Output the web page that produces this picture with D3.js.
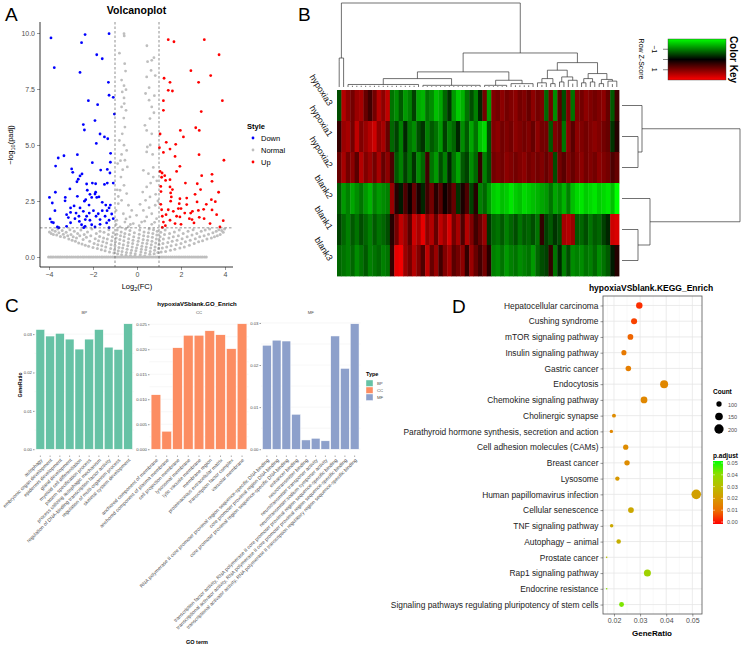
<!DOCTYPE html>
<html>
<head>
<meta charset="utf-8">
<script src="https://d3js.org/d3.v7.min.js"></script>
<style>
  html, body { margin: 0; padding: 0; background: #fff; }
  svg { display: block; font-family: "Liberation Sans", Arial, sans-serif; }
</style>
</head>
<body>
<svg width="744" height="646"></svg>
<script>
// ---------- A: volcano data (log2FC, -log10 padj) ----------
const downPts = [[-3.91,9.78],[-2.36,9.93],[-2.52,9.57],[-1.27,9.97],[-3.76,8.45],[-1.83,9.03],[-1.58,8.85],[-2.59,8.24],[-1.30,7.80],[-1.27,7.22],[-1.08,7.13],[-2.21,6.98],[-1.79,6.80],[-1.03,6.38],[-1.91,6.09],[-2.44,5.91],[-2.39,5.67],[-1.68,5.49],[-1.48,5.36],[-1.33,5.28],[-1.85,5.07],[-1.20,4.63],[-3.32,4.52],[-3.58,4.42],[-2.71,4.57],[-3.70,4.06],[-2.03,4.21],[-1.21,4.23],[-2.97,3.93],[-2.92,3.78],[-1.65,3.88],[-1.35,3.91],[-2.50,3.71],[-2.59,3.62],[-2.67,3.47],[-2.73,3.36],[-1.23,3.75],[-2.29,3.26],[-2.03,3.30],[-1.88,3.27],[-1.48,3.24],[-1.35,3.30],[-1.08,3.30],[-3.05,3.04],[-3.71,2.89],[-2.26,2.98],[-1.88,2.89],[-1.73,2.68],[-2.14,2.80],[-1.91,2.81],[-3.98,2.66],[-3.26,2.66],[-2.71,2.71],[-2.06,2.66],[-1.83,2.66],[-2.33,2.56],[-3.27,2.51],[-2.39,2.49],[-1.58,2.44],[-3.85,2.41],[-2.86,2.28],[-2.18,2.32],[-1.42,2.32],[-1.21,2.32],[-1.27,2.19],[-3.02,2.19],[-2.59,2.19],[-3.73,2.07],[-1.98,2.07],[-1.58,2.07],[-1.36,2.07],[-3.02,1.99],[-2.77,1.96],[-2.44,2.04],[-2.17,1.96],[-1.76,1.93],[-1.15,1.92],[-3.20,1.89],[-2.64,1.82],[-2.29,1.82],[-1.86,1.82],[-1.45,1.82],[-3.95,1.70],[-3.12,1.76],[-2.82,1.71],[-2.62,1.59],[-2.35,1.67],[-2.14,1.64],[-1.68,1.67],[-1.27,1.64],[-1.08,1.71],[-3.88,1.56],[-3.80,1.53],[-3.02,1.53],[-2.52,1.44],[-2.06,1.44],[-1.68,1.46],[-1.38,1.52],[-3.62,1.34],[-3.55,1.31],[-3.20,1.37],[-2.36,1.37],[-1.91,1.34],[-1.27,1.31],[-2.42,1.31]];
const upPts = [[1.42,9.70],[1.68,9.61],[3.06,9.70],[3.73,9.03],[2.45,8.32],[3.35,8.10],[1.23,7.98],[1.50,7.80],[2.80,7.80],[1.42,7.44],[1.61,7.41],[1.20,6.98],[3.88,6.98],[1.20,6.55],[2.92,6.49],[2.67,5.77],[2.83,5.65],[1.97,5.65],[1.05,5.49],[2.11,5.36],[1.33,5.12],[1.02,4.88],[1.76,5.03],[1.50,4.82],[1.20,4.67],[1.73,4.49],[2.82,4.57],[3.95,4.32],[1.95,4.05],[1.05,3.82],[1.14,3.75],[1.80,3.82],[1.26,3.63],[2.94,3.63],[3.41,3.69],[1.12,3.56],[1.30,3.42],[1.50,3.45],[3.41,3.38],[2.20,3.30],[2.74,3.27],[1.08,3.15],[1.50,3.13],[1.61,3.01],[2.89,3.01],[1.09,2.92],[1.53,2.86],[3.71,2.89],[2.64,2.80],[1.56,2.68],[3.38,2.56],[1.95,2.60],[2.26,2.63],[3.56,2.47],[1.53,2.49],[2.73,2.46],[1.08,2.35],[1.92,2.38],[2.26,2.34],[3.15,2.35],[3.03,2.13],[1.12,2.11],[1.42,2.11],[1.88,2.16],[2.00,2.16],[2.52,2.04],[2.79,2.08],[3.41,2.10],[1.65,2.04],[2.44,1.96],[1.32,1.89],[2.17,1.96],[3.62,1.89],[1.15,1.82],[1.80,1.82],[2.38,1.71],[2.83,1.77],[3.05,1.71],[1.50,1.64],[1.95,1.79],[2.50,1.67],[3.92,1.62],[1.20,1.56],[1.73,1.49],[2.59,1.52],[3.32,1.49],[3.77,1.34],[1.15,1.32],[2.00,1.46],[1.29,1.40]];
const normalHigh = [[-0.59,9.97],[-0.58,9.87],[-0.80,9.1],[0.45,9.43],[0.77,8.9],[0.67,8.78],[0.48,8.72],[-0.56,8.63],[-0.52,8.3],[0.64,8.33],[0.44,8.04],[0.83,8.1],[-0.70,7.9],[-0.59,7.65],[-0.50,7.47],[-0.67,7.37],[0.55,7.56],[0.39,7.3],[0.79,7.2],[-0.59,7.1],[-0.58,6.85],[-0.70,6.7],[-0.50,6.55],[0.55,7.0],[0.67,6.7],[0.77,6.44],[0.59,6.18],[0.36,5.88],[0.44,5.65],[0.67,5.5],[-0.55,5.8],[-0.67,5.5],[-0.80,5.2],[-0.59,4.99],[-0.47,4.76],[-0.70,4.58],[0.47,4.91],[0.44,4.69],[0.71,4.58],[-0.88,4.17],[-0.55,4.32],[-0.44,4.02],[0.29,3.87],[0.52,3.72],[0.74,3.57],[0.74,4.0],[-0.73,3.57],[-0.59,3.2],[0.62,3.3],[0.44,3.13],[0.26,2.9],[-0.77,2.98],[-0.47,2.83],[-0.70,2.53],[-0.39,2.31],[-0.85,2.38],[0.39,2.53],[0.59,2.68],[0.14,2.35],[0.83,2.31],[-0.95,2.08],[-0.62,1.93],[-0.24,2.08],[0.29,2.08],[0.67,1.93],[-0.32,1.79],[-0.02,1.86],[0.44,1.79],[0.89,1.71],[-0.92,1.64],[-0.55,1.56],[0.21,1.56],[-0.17,1.49],[0.67,1.46],[-0.77,1.34],[-0.39,1.35],[-0.9,3.0],[-0.65,3.9],[0.9,3.4],[0.85,2.8],[-0.85,2.7],[0.55,2.2],[-0.5,1.7],[0.1,1.4],[-0.3,1.45],[0.35,1.6],[0.8,1.55],[-0.95,1.45],[0.95,2.5],[-0.6,6.2],[0.6,5.0],[-0.75,4.3]];
const normalLow = [[-3.98,1.12],[-3.9,1.05],[-3.85,1.2],[-3.8,1.0],[-3.72,1.15],[-3.65,0.98],[-3.6,1.25],[-3.55,1.08],[-3.48,0.92],[-3.4,1.18],[-3.35,1.02],[-3.3,0.88],[-3.22,1.1],[-3.15,0.95],[-3.1,0.8],[-3.05,1.22],[-3.0,1.0],[-2.95,0.75],[-2.9,0.9],[-2.85,1.15],[-2.8,0.7],[-2.75,0.85],[-2.7,1.05],[-2.65,0.62],[-2.6,0.95],[-2.55,1.2],[-2.5,0.58],[-2.45,0.78],[-2.4,1.0],[-2.35,0.52],[-2.3,0.88],[-2.25,1.12],[-2.2,0.48],[-2.15,0.7],[-2.1,0.95],[-2.05,1.25],[-2.0,0.42],[-1.95,0.6],[-1.9,0.82],[-1.85,1.05],[-1.8,0.38],[-1.78,0.55],[-1.75,0.72],[-1.7,0.92],[-1.68,1.15],[-1.62,0.32],[-1.6,0.5],[-1.55,0.68],[-1.52,0.85],[-1.5,1.1],[-1.45,0.28],[-1.42,0.45],[-1.38,0.62],[-1.35,0.8],[-1.3,1.0],[-1.28,1.22],[-1.25,0.22],[-1.2,0.38],[-1.18,0.55],[-1.15,0.72],[-1.12,0.9],[-1.08,1.08],[-1.05,0.18],[-1.02,0.32],[-1.0,0.5],[-0.98,0.68],[-0.95,0.85],[-0.92,1.02],[-0.9,1.2],[-0.88,0.14],[-0.85,0.28],[-0.82,0.42],[-0.8,0.6],[-0.78,0.78],[-0.75,0.95],[-0.72,1.12],[-0.7,0.1],[-0.68,0.25],[-0.65,0.4],[-0.62,0.55],[-0.6,0.72],[-0.58,0.9],[-0.55,1.05],[-0.52,1.25],[-0.5,0.08],[-0.48,0.2],[-0.45,0.35],[-0.42,0.5],[-0.4,0.65],[-0.38,0.82],[-0.35,1.0],[-0.32,1.18],[-0.3,0.06],[-0.28,0.18],[-0.25,0.3],[-0.22,0.45],[-0.2,0.6],[-0.18,0.75],[-0.15,0.9],[-0.12,1.08],[-0.1,0.05],[-0.08,0.15],[-0.05,0.28],[-0.02,0.4],[0.02,0.55],[0.05,0.7],[0.08,0.85],[0.1,1.02],[0.12,1.2],[0.15,0.1],[0.18,0.22],[0.2,0.35],[0.22,0.48],[0.25,0.62],[0.28,0.78],[0.3,0.95],[0.32,1.12],[0.35,0.05],[0.38,0.18],[0.4,0.32],[0.42,0.45],[0.45,0.6],[0.48,0.75],[0.5,0.92],[0.52,1.08],[0.55,1.25],[0.58,0.12],[0.6,0.25],[0.62,0.4],[0.65,0.55],[0.68,0.7],[0.7,0.88],[0.72,1.05],[0.75,1.22],[0.78,0.15],[0.8,0.3],[0.82,0.45],[0.85,0.62],[0.88,0.8],[0.9,0.98],[0.92,1.15],[0.95,0.2],[0.98,0.38],[1.0,0.55],[1.02,0.72],[1.05,0.9],[1.08,1.1],[1.1,0.22],[1.15,0.4],[1.18,0.6],[1.2,0.8],[1.25,1.0],[1.28,1.2],[1.3,0.25],[1.35,0.45],[1.4,0.65],[1.45,0.85],[1.48,1.05],[1.52,0.3],[1.55,0.5],[1.6,0.7],[1.65,0.9],[1.7,1.12],[1.72,0.35],[1.78,0.55],[1.82,0.75],[1.88,0.95],[1.92,1.2],[1.95,0.4],[2.0,0.6],[2.05,0.82],[2.1,1.05],[2.15,0.45],[2.2,0.68],[2.28,0.9],[2.32,1.15],[2.38,0.52],[2.42,0.75],[2.5,0.98],[2.55,1.22],[2.6,0.6],[2.65,0.82],[2.72,1.05],[2.8,0.68],[2.85,0.9],[2.92,1.15],[2.98,0.72],[3.05,0.95],[3.1,1.2],[3.18,0.8],[3.25,1.02],[3.3,1.25],[3.38,0.85],[3.45,1.08],[3.52,0.9],[3.6,1.15],[3.65,0.95],[3.72,1.22],[3.78,1.0],[3.85,1.18],[3.92,1.1],[3.98,1.25]];
const normalZeroX = [-4.02,-3.94,-3.87,-3.8,-3.71,-3.63,-3.55,-3.48,-3.4,-3.31,-3.22,-3.15,-3.06,-2.98,-2.9,-2.81,-2.72,-2.65,-2.56,-2.47,-2.4,-2.31,-2.22,-2.14,-2.05,-1.97,-1.88,-1.8,-1.71,-1.62,-1.55,-1.46,-1.38,-1.3,-1.21,-1.12,-1.04,-0.95,-0.87,-0.78,-0.7,-0.61,-0.53,-0.44,-0.36,-0.27,-0.19,-0.1,-0.02,0.07,0.15,0.24,0.32,0.41,0.5,0.58,0.67,0.75,0.84,0.92,1.01,1.1,1.18,1.27,1.35,1.44,1.53,1.61,1.7,1.78,1.87,1.95,2.04,2.13,2.21,2.3,2.38,2.47,2.55,2.64,2.73,2.81,2.9,2.98,3.07,3.15];
const volcanoXTicks = [-4, -2, 0, 2, 4];
const volcanoYTicks = [0, 2.5, 5, 7.5, 10];

// ---------- B: heatmap ----------
const rowNames = ["hypoxia3", "hypoxia1", "hypoxia2", "blank2", "blank1", "blank3"];
const heatValues = [
  [-0.6,1.4,1.1,0.9,1.2,1.3,0.8,0.5,0.9,1.4,1.1,1.5, -0.9,-1.1,-0.7,-1.2,-1.0,-0.5,-1.3,-1.4,-0.9,-1.1,-1.5,-1.3,-0.8,-0.4,-1.2,-1.6,-1.4,-0.9,-0.6,-1.0,-0.3,0.9,-1.2, 1.0,0.9,1.1,0.9,1.0,1.1,0.9,1.0,0.8,1.1,0.9,1.0, -0.8,0.9,-1.1,0.7,-0.6,1.0,-0.9, 1.0,0.9,1.1,1.0,0.9,1.0,1.1,0.8,-0.7,0.5],
  [0.4,1.2,1.3,0.9,1.5,1.0,1.2,1.4,1.6,1.1,1.3,0.8, -0.8,-0.5,-1.0,-0.3,-0.9,-1.1,-0.6,-0.4,-1.0,-0.7,-0.9,-1.2,-0.5,-1.0,-0.8,-0.3,-1.1,-0.7,-1.3,-0.9,-1.5,-1.7,-0.6, 1.0,1.1,0.9,1.0,0.9,1.1,1.0,0.9,1.0,0.8,1.1,0.9, 0.9,-0.7,1.0,0.8,-0.9,1.1,0.7, 1.1,1.0,0.9,1.0,1.1,1.0,0.9,0.8,-0.4,0.3],
  [0.8,1.3,0.9,1.1,0.7,1.4,1.0,1.2,0.9,1.3,0.8,1.1, 0.6,-0.7,-1.0,-0.5,-0.9,-0.4,-1.1,-0.8,0.5,-0.9,-1.2,-0.6,-1.0,-0.3,-0.9,-1.3,-0.7,-0.5,-1.1,-0.8,0.4,-1.0,-0.6, 0.9,1.0,0.9,1.1,1.0,0.9,1.0,1.1,0.9,1.0,0.9,1.0, 0.8,1.0,-0.6,0.9,0.7,1.0,0.8, 1.0,1.1,0.9,1.0,0.9,1.1,1.0,0.9,0.6,0.8],
  [-0.7,-1.2,-1.0,-1.3,-1.1,-0.9,-1.2,-1.4,-1.0,-1.2,-1.1,-1.0, 1.2,0.3,-0.2,0.6,0.1,0.8,0.2,-0.3,0.5,0.9,0.3,0.7,0.1,0.4,0.8,-0.4,0.2,0.6,-0.5,0.3,-1.0,-0.8,-1.2, -1.6,-1.7,-1.5,-1.6,-1.8,-1.6,-1.5,-1.7,-1.6,-1.5,-1.4,-1.3, -1.2,-0.9,-1.3,-1.1,-1.4,-1.0,-1.5, -1.7,-1.8,-1.6,-1.7,-1.8,-1.6,-1.7,-1.8,-1.5,-2.0],
  [-0.5,-0.8,-1.0,-0.7,-0.9,-0.6,-0.8,-1.0,-0.7,-0.9,-0.8,-0.6, 0.3,0.9,1.5,1.2,0.7,1.6,1.3,1.8,1.1,1.4,0.8,1.5,1.2,1.7,0.9,1.3,0.6,1.4,1.0,0.5,0.8,1.2,-0.4, -0.8,-0.9,-0.7,-1.0,-0.8,-0.6,-0.9,-0.7,-0.8,-0.6,-0.9,0.4, -0.5,-0.7,-0.4,-0.6,1.3,1.4,1.2, -0.7,-0.8,-0.6,-0.9,-0.7,-0.8,-0.5,-0.3,1.6,1.7],
  [-0.8,-0.9,-1.0,-0.8,-1.1,-0.9,-0.7,-1.0,-0.9,-0.8,-1.0,-0.9, 0.4,1.8,1.9,1.2,0.9,1.4,1.0,0.6,1.5,0.8,1.2,0.5,1.0,1.3,0.7,0.9,1.1,0.4,1.2,0.8,0.5,0.9,0.3, -1.0,-1.1,-0.9,-1.2,-1.0,-0.9,-1.1,-1.0,-0.9,-1.2,-0.8,-0.6, -0.5,0.4,-0.9,-0.3,-1.0,-0.6,-1.1, -1.0,-1.1,-0.9,-1.0,-0.8,-1.1,-0.9,-0.7,-0.2,0.3]
];
// [height, child, child]; [height, [firstCol, lastCol]] is a leaf group; a bare number is a leaf
const rowTree = [118, [20, 0, [16, 1, 2]], [28, 3, [16, 4, 5]]];
const colTree = [1.0,
  [0.345, [0.3, [0, 0]], [0.06, [1, 1]]],
  [0.405,
    [0.18,
      [0.1, [0.03, [2, 18]], [0.02, [19, 32]]],
      [0.08, [0.02, [33, 38]], [0.04, [39, 44]]]],
    [0.29,
      [0.2, [0.1, [0.05, [45, 47]], [0.04, [48, 49]]], [0.12, [0.06, [50, 51]], [0.08, [52, 54]]]],
      [0.16, [0.1, [0.05, [55, 56]], [0.06, [57, 58]]], [0.09, [0.04, [59, 60]], [0.07, [61, 63]]]]]]];
const keyTicks = [-1, 0, 1];
const keyLabels = [-1, 1];

// ---------- C: GO enrichment ----------
const bpTerms = ["autophagy","embryonic organ development","epidermis development","gland development","myeloid cell differentiation","pattern specification process","process utilizing autophagic mechanism","regulation of DNA-binding transcription factor activity","regulation of multi-organism process","skeletal system development"];
const bpRatio = [0.0312,0.0295,0.0302,0.0287,0.0261,0.0287,0.0312,0.0266,0.0260,0.0327];
const ccTerms = ["anchored component of membrane","anchored component of plasma membrane","cell projection membrane","lysosomal membrane","lytic vacuole membrane","membrane region","proteinaceous extracellular matrix","transcription factor complex","vacuolar membrane"];
const ccRatio = [0.0109,0.0036,0.0203,0.0228,0.0228,0.0237,0.0229,0.0201,0.0251];
const mfTerms = ["RNA polymerase II core promoter proximal region sequence-specific DNA binding","core promoter proximal region DNA binding","core promoter proximal region sequence-specific DNA binding","enhancer binding","neurotransmitter binding","neurotransmitter transporter activity","neurotransmitter:sodium symporter activity","transcription factor activity, RNA polymerase II core promoter proximal region sequence-specific binding","transcriptional activator activity, RNA polymerase II core promoter proximal region sequence-specific binding","transcriptional activator activity, RNA polymerase II transcription regulatory region sequence-specific binding"];
const mfRatio = [0.0247,0.0259,0.0257,0.0083,0.0022,0.0026,0.0020,0.0269,0.0192,0.0298];
const bpTicks = [0, 0.01, 0.02, 0.03];
const ccTicks = [0, 0.005, 0.01, 0.015, 0.02, 0.025];
const mfTicks = [0, 0.01, 0.02, 0.03];
const goTypes = ["BP", "CC", "MF"];

// ---------- D: KEGG enrichment ----------
const keggTerms = ["Hepatocellular carcinoma","Cushing syndrome","mTOR signaling pathway","Insulin signaling pathway","Gastric cancer","Endocytosis","Chemokine signaling pathway","Cholinergic synapse","Parathyroid hormone synthesis, secretion and action","Cell adhesion molecules (CAMs)","Breast cancer","Lysosome","Human papillomavirus infection","Cellular senescence","TNF signaling pathway","Autophagy \u2212 animal","Prostate cancer","Rap1 signaling pathway","Endocrine resistance","Signaling pathways regulating pluripotency of stem cells"];
const keggRatio = [0.0297,0.0277,0.0263,0.0238,0.0255,0.0392,0.0315,0.0200,0.0190,0.0245,0.0250,0.0213,0.0515,0.0265,0.0191,0.0218,0.0172,0.0328,0.0172,0.0229];
const keggCount = [121,113,107,97,104,160,128,82,77,100,102,87,210,108,78,89,70,134,70,94];
const keggPadj = [0.002,0.004,0.009,0.013,0.014,0.016,0.016,0.017,0.016,0.017,0.017,0.020,0.022,0.024,0.024,0.026,0.030,0.036,0.040,0.042];
const keggXTicks = [0.02, 0.03, 0.04, 0.05];
const countLegend = [100, 150, 200];
const padjLegend = [0, 0.01, 0.02, 0.03, 0.04, 0.05];

const svg = d3.select("svg");
const grey30 = "#4d4d4d";

function styleAxis(g, size) {
  g.selectAll("text").attr("fill", grey30).style("font-size", size + "px");
  g.selectAll("line").attr("stroke", "#333").attr("stroke-width", 0.5);
}

// ================= Panel A =================
{
  const g = svg.append("g");
  const x = d3.scaleLinear().domain([-4, 4]).range([49, 225]);
  const y = d3.scaleLinear().domain([0, 10]).range([257, 33]);
  const left = 40, right = 233, top = 22, bottom = 267;

  const xa = g.append("g").attr("transform", `translate(0,${bottom})`)
    .call(d3.axisBottom(x).tickValues(volcanoXTicks).tickSize(3).tickPadding(2));
  xa.select(".domain").remove();
  styleAxis(xa, 7);
  const ya = g.append("g").attr("transform", `translate(${left},0)`)
    .call(d3.axisLeft(y).tickValues(volcanoYTicks).tickFormat(d3.format(".1f")).tickSize(3).tickPadding(2));
  ya.select(".domain").remove();
  styleAxis(ya, 7);
  g.append("line").attr("x1", left).attr("x2", right).attr("y1", bottom).attr("y2", bottom).attr("stroke", "#000").attr("stroke-width", 0.8);
  g.append("line").attr("x1", left).attr("x2", left).attr("y1", top).attr("y2", bottom).attr("stroke", "#000").attr("stroke-width", 0.8);

  const pts = g.append("g");
  const dot = (data, col, r) => pts.selectAll(null).data(data).enter().append("circle")
    .attr("cx", d => x(d[0])).attr("cy", d => y(d[1])).attr("r", r).attr("fill", col);
  dot(normalZeroX.map(v => [v, 0]), "#bebebe", 1.5);
  dot(normalLow, "#bebebe", 1.5);
  dot(normalHigh, "#bebebe", 1.4);
  dot(downPts, "#0000ff", 1.4);
  dot(upPts, "#ff0000", 1.4);

  const dash = { stroke: "#444", "stroke-width": 0.6, "stroke-dasharray": "2.5,2" };
  [-1, 1].forEach(v => {
    const l = g.append("line").attr("x1", x(v)).attr("x2", x(v)).attr("y1", top).attr("y2", bottom);
    Object.entries(dash).forEach(([k, val]) => l.attr(k, val));
  });
  const hl = g.append("line").attr("x1", left).attr("x2", right)
    .attr("y1", y(-Math.log10(0.05))).attr("y2", y(-Math.log10(0.05)));
  Object.entries(dash).forEach(([k, val]) => hl.attr(k, val));

  g.append("text").attr("x", 136.5).attr("y", 14).attr("text-anchor", "middle")
    .style("font-size", "10.5px").style("font-weight", "bold").text("Volcanoplot");
  g.append("text").attr("x", 5).attr("y", 21).style("font-size", "19px").text("A");

  const yl = g.append("text").attr("transform", "translate(13,145) rotate(-90)")
    .attr("text-anchor", "middle").style("font-size", "7.5px");
  yl.append("tspan").text("\u2212log");
  yl.append("tspan").attr("dy", 2).style("font-size", "5.5px").text("10");
  yl.append("tspan").attr("dy", -2).text("(padj)");
  const xl = g.append("text").attr("x", 137).attr("y", 289).attr("text-anchor", "middle").style("font-size", "7.5px");
  xl.append("tspan").text("Log");
  xl.append("tspan").attr("dy", 2).style("font-size", "5.5px").text("2");
  xl.append("tspan").attr("dy", -2).text("(FC)");

  g.append("text").attr("x", 247).attr("y", 129).style("font-size", "7.5px").style("font-weight", "bold").text("Style");
  [["Down", "#0000ff"], ["Normal", "#bebebe"], ["Up", "#ff0000"]].forEach((d, i) => {
    g.append("circle").attr("cx", 253).attr("cy", 138 + i * 12).attr("r", 1.4).attr("fill", d[1]);
    g.append("text").attr("x", 261).attr("y", 141 + i * 12).style("font-size", "7.5px").text(d[0]);
  });
}

// ================= Panel B =================
{
  const g = svg.append("g");
  const x = d3.scaleBand().domain(d3.range(heatValues[0].length)).range([337, 619]);
  const y = d3.scaleBand().domain(rowNames).range([90, 276]);
  const color = d3.scaleLinear().domain([-2, 0, 2]).range(["#00ff00", "#000000", "#ff0000"]).clamp(true);

  heatValues.forEach((row, r) => {
    g.selectAll(null).data(row).enter().append("rect")
      .attr("x", (d, i) => x(i)).attr("y", y(rowNames[r]))
      .attr("width", x.bandwidth() + 0.4).attr("height", y.bandwidth() + 0.4)
      .attr("fill", d => color(d));
  });

  rowNames.forEach(n => {
    g.append("text").attr("transform", `translate(328,${y(n) + y.bandwidth() / 2 + 1}) rotate(58)`)
      .attr("text-anchor", "end").style("font-family", "'Liberation Sans', Arial, sans-serif")
      .style("font-size", "8.8px").attr("fill", "#111").text(n);
  });

  function dendro(node, pos, hs, vertical) {
    const dg = g.append("g").attr("fill", "none").attr("stroke", "#333").attr("stroke-width", 0.7);
    const pt = (p, h) => vertical ? [p, hs(h)] : [hs(h), p];
    const line = d3.line();
    function walk(n) {
      if (typeof n === "number") return { p: pos(n), h: 0 };
      if (n.length === 2) {
        const h = n[0], a = n[1][0], b = n[1][1];
        const pa = pos(a), pb = pos(b);
        if (a === b) {
          dg.append("path").attr("d", line([pt(pa, 0), pt(pa, h)]));
          return { p: pa, h };
        }
        dg.append("path").attr("d", line([pt(pa, 0), pt(pa, h), pt(pb, h), pt(pb, 0)]));
        for (let i = a + 1; i < b; i++) dg.append("path").attr("d", line([pt(pos(i), 0), pt(pos(i), h * 0.5)]));
        return { p: (pa + pb) / 2, h };
      }
      const l = walk(n[1]), r = walk(n[2]);
      dg.append("path").attr("d", line([pt(l.p, l.h), pt(l.p, n[0]), pt(r.p, n[0]), pt(r.p, r.h)]));
      return { p: (l.p + r.p) / 2, h: n[0] };
    }
    walk(node);
  }
  dendro(colTree, i => x(i) + x.bandwidth() / 2, d3.scaleLinear().domain([0, 1]).range([87, 3]), true);
  dendro(rowTree, i => y(rowNames[i]) + y.bandwidth() / 2, d3.scaleLinear().domain([0, 118]).range([622, 740]), false);

  g.append("text").attr("x", 298).attr("y", 21).style("font-size", "19px").text("B");

  // colour key
  const grad = svg.append("defs").append("linearGradient").attr("id", "keyGrad")
    .attr("x1", 0).attr("y1", 0).attr("x2", 0).attr("y2", 1);
  [[0, color(-2)], [0.5, color(0)], [1, color(2)]].forEach(s =>
    grad.append("stop").attr("offset", s[0]).attr("stop-color", s[1]));
  const k = d3.scaleLinear().domain([-2, 2]).range([39, 80]);
  g.append("rect").attr("x", 668).attr("y", 39).attr("width", 58).attr("height", 41)
    .attr("fill", "url(#keyGrad)").attr("stroke", "#333").attr("stroke-width", 0.4);
  keyTicks.forEach(v => g.append("line").attr("x1", 663).attr("x2", 668).attr("y1", k(v)).attr("y2", k(v))
    .attr("stroke", "#333").attr("stroke-width", 0.6));
  keyLabels.forEach(v => g.append("text").attr("transform", `translate(652,${k(v)}) rotate(90)`)
    .attr("text-anchor", "middle").style("font-size", "7px").text(v < 0 ? "\u22121" : String(v)));
  g.append("text").attr("transform", "translate(639,59) rotate(90)").attr("text-anchor", "middle")
    .style("font-size", "7px").text("Row Z-Score");
  g.append("text").attr("transform", "translate(730,59.5) rotate(90)").attr("text-anchor", "middle")
    .style("font-size", "10px").style("font-weight", "bold").text("Color Key");
}

// ================= Panel C =================
{
  const g = svg.append("g");
  const typeColor = d3.scaleOrdinal().domain(goTypes).range(["#66c2a5", "#fc8d62", "#8da0cb"]);
  const facets = [
    { type: "BP", terms: bpTerms, vals: bpRatio, ticks: bpTicks, fmt: ".2f", x0: 34.5, x1: 134 },
    { type: "CC", terms: ccTerms, vals: ccRatio, ticks: ccTicks, fmt: ".3f", x0: 149.5, x1: 248.5 },
    { type: "MF", terms: mfTerms, vals: mfRatio, ticks: mfTicks, fmt: ".2f", x0: 261, x1: 360.5 }
  ];
  facets.forEach(f => {
    const mx = d3.max(f.vals);
    const y = d3.scaleLinear().domain([-0.05 * mx, 1.05 * mx]).range([455.5, 317.5]);
    const x = d3.scaleBand().domain(f.terms).range([f.x0, f.x1]).paddingInner(0.1).paddingOuter(0.15);
    const minor = f.ticks.slice(0, -1).map((t, i) => (t + f.ticks[i + 1]) / 2);
    g.selectAll(null).data(f.ticks.concat(minor)).enter().append("line")
      .attr("x1", f.x0).attr("x2", f.x1).attr("y1", d => y(d)).attr("y2", d => y(d))
      .attr("stroke", "#ececec").attr("stroke-width", 0.4);
    g.selectAll(null).data(f.terms).enter().append("rect")
      .attr("x", d => x(d)).attr("width", x.bandwidth())
      .attr("y", (d, i) => y(f.vals[i])).attr("height", (d, i) => y(0) - y(f.vals[i]))
      .attr("fill", typeColor(f.type)).attr("stroke", "#fff").attr("stroke-width", 0.5);
    const ya = g.append("g").attr("transform", `translate(${f.x0},0)`)
      .call(d3.axisLeft(y).tickValues(f.ticks).tickFormat(d3.format(f.fmt)).tickSize(1.5).tickPadding(1));
    ya.select(".domain").remove();
    styleAxis(ya, 4.3);
    f.terms.forEach(t => {
      const cx = x(t) + x.bandwidth() / 2;
      g.append("line").attr("x1", cx).attr("x2", cx).attr("y1", 455.5).attr("y2", 457).attr("stroke", "#333").attr("stroke-width", 0.4);
      g.append("text").attr("transform", `translate(${cx + 2.5},${460.5}) rotate(-45)`)
        .attr("text-anchor", "end").attr("fill", grey30).style("font-size", "5px").text(t);
    });
    g.append("text").attr("x", (f.x0 + f.x1) / 2).attr("y", 314).attr("text-anchor", "middle")
      .attr("fill", grey30).style("font-size", "4.3px").text(f.type);
  });
  g.append("text").attr("x", 197).attr("y", 306).attr("text-anchor", "middle")
    .style("font-size", "6px").style("font-weight", "bold").text("hypoxiaVSblank.GO_Enrich");
  g.append("text").attr("x", 197).attr("y", 644).attr("text-anchor", "middle")
    .style("font-size", "5.5px").style("font-weight", "bold").text("GO term");
  g.append("text").attr("transform", "translate(22,385) rotate(-90)").attr("text-anchor", "middle")
    .style("font-size", "5px").style("font-weight", "bold").text("GeneRatio");
  g.append("text").attr("x", 5).attr("y", 312).style("font-size", "19px").text("C");
  g.append("text").attr("x", 366).attr("y", 376).style("font-size", "5.5px").style("font-weight", "bold").text("Type");
  goTypes.forEach((t, i) => {
    g.append("rect").attr("x", 366).attr("y", 380 + i * 7).attr("width", 7).attr("height", 6.5)
      .attr("fill", typeColor(t)).attr("stroke", "#fff").attr("stroke-width", 0.4);
    g.append("text").attr("x", 377).attr("y", 385 + i * 7).attr("fill", grey30).style("font-size", "4.3px").text(t);
  });
}

// ================= Panel D =================
{
  const g = svg.append("g");
  const left = 603, right = 702, top = 296, bottom = 614;
  const x = d3.scaleLinear().domain([0.0158, 0.0537]).range([left, right]);
  const y = d3.scalePoint().domain(keggTerms).range([top, bottom]).padding(0.6);
  const color = d3.scaleLinear().domain([0, 0.05]).range(["#ff0000", "#00ff00"]).interpolate(d3.interpolateLab);
  const cMin = d3.min(keggCount), cMax = d3.max(keggCount);
  const rad = c => 0.8 + 4 * Math.sqrt(Math.max(0, (c - cMin) / (cMax - cMin)));

  g.append("rect").attr("x", left).attr("y", top).attr("width", right - left).attr("height", bottom - top).attr("fill", "#fff");
  const minorX = [0.0175, 0.025, 0.035, 0.045];
  g.selectAll(null).data(minorX).enter().append("line").attr("x1", d => x(d)).attr("x2", d => x(d))
    .attr("y1", top).attr("y2", bottom).attr("stroke", "#f0f0f0").attr("stroke-width", 0.5);
  g.selectAll(null).data(keggXTicks).enter().append("line").attr("x1", d => x(d)).attr("x2", d => x(d))
    .attr("y1", top).attr("y2", bottom).attr("stroke", "#e6e6e6").attr("stroke-width", 0.8);
  g.selectAll(null).data(keggTerms).enter().append("line").attr("x1", left).attr("x2", right)
    .attr("y1", d => y(d)).attr("y2", d => y(d)).attr("stroke", "#e6e6e6").attr("stroke-width", 0.8);

  g.selectAll(null).data(keggTerms).enter().append("circle")
    .attr("cx", (d, i) => x(keggRatio[i])).attr("cy", d => y(d))
    .attr("r", (d, i) => rad(keggCount[i])).attr("fill", (d, i) => color(keggPadj[i]));

  g.append("rect").attr("x", left).attr("y", top).attr("width", right - left).attr("height", bottom - top)
    .attr("fill", "none").attr("stroke", "#555").attr("stroke-width", 0.8);

  const xa = g.append("g").attr("transform", `translate(0,${bottom})`)
    .call(d3.axisBottom(x).tickValues(keggXTicks).tickFormat(d3.format(".2f")).tickSize(2.5).tickPadding(2));
  xa.select(".domain").remove();
  styleAxis(xa, 7);
  const ya = g.append("g").attr("transform", `translate(${left},0)`)
    .call(d3.axisLeft(y).tickSize(2.5).tickPadding(2));
  ya.select(".domain").remove();
  styleAxis(ya, 8.4);
  ya.selectAll("text").attr("fill", "#222");

  g.append("text").attr("x", 651).attr("y", 291).attr("text-anchor", "middle")
    .style("font-size", "8.5px").style("font-weight", "bold").text("hypoxiaVSblank.KEGG_Enrich");
  g.append("text").attr("x", 652).attr("y", 636).attr("text-anchor", "middle")
    .style("font-size", "8px").style("font-weight", "bold").text("GeneRatio");
  g.append("text").attr("x", 452).attr("y", 313).style("font-size", "19px").text("D");

  g.append("text").attr("x", 713).attr("y", 394).style("font-size", "6.5px").style("font-weight", "bold").text("Count");
  countLegend.forEach((c, i) => {
    g.append("circle").attr("cx", 719).attr("cy", 404 + i * 12.5).attr("r", rad(c)).attr("fill", "#000");
    g.append("text").attr("x", 728).attr("y", 406.5 + i * 12.5).attr("fill", grey30).style("font-size", "5.5px").text(c);
  });

  g.append("text").attr("x", 713).attr("y", 458).style("font-size", "6.5px").style("font-weight", "bold").text("p.adjust");
  const cb = d3.scaleLinear().domain([0, 0.05]).range([522, 463]);
  const pg = svg.select("defs").append("linearGradient").attr("id", "padjGrad")
    .attr("x1", 0).attr("y1", 1).attr("x2", 0).attr("y2", 0);
  padjLegend.forEach(v => pg.append("stop").attr("offset", v / 0.05).attr("stop-color", color(v)));
  g.append("rect").attr("x", 713).attr("y", 461).attr("width", 10).attr("height", 63).attr("fill", "url(#padjGrad)");
  padjLegend.forEach(v => {
    g.append("line").attr("x1", 713).attr("x2", 715).attr("y1", cb(v)).attr("y2", cb(v)).attr("stroke", "#fff").attr("stroke-width", 0.5);
    g.append("line").attr("x1", 721).attr("x2", 723).attr("y1", cb(v)).attr("y2", cb(v)).attr("stroke", "#fff").attr("stroke-width", 0.5);
    g.append("text").attr("x", 727).attr("y", cb(v) + 2).attr("fill", grey30).style("font-size", "5.5px").text(d3.format(".2f")(v));
  });
}
</script>
</body>
</html>
